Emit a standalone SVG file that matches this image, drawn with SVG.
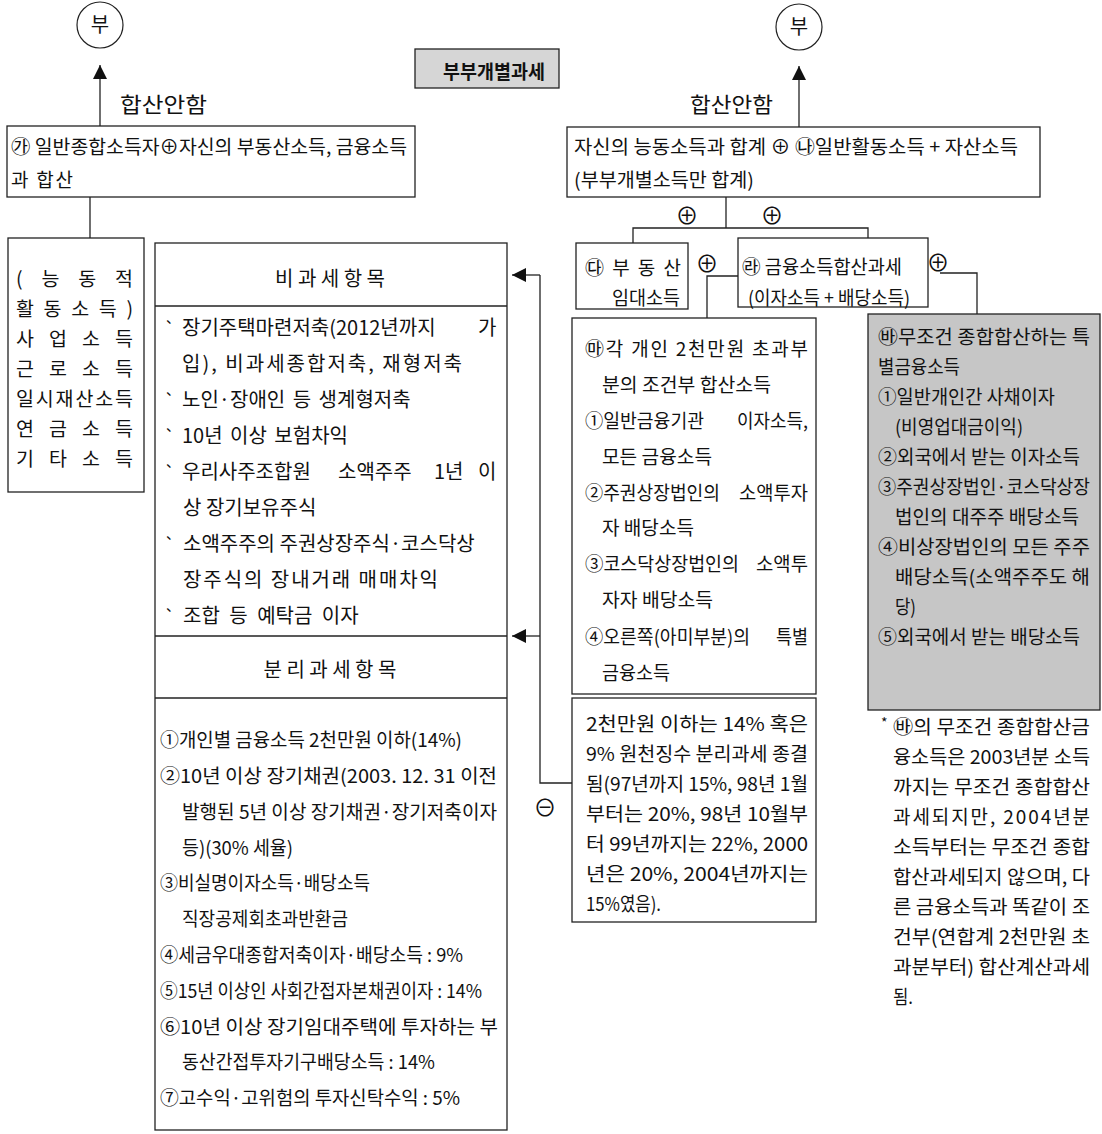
<svg xmlns="http://www.w3.org/2000/svg" width="1102" height="1134" viewBox="0 0 1102 1134">
<style>
text { font-family: "Noto Sans CJK KR", "Noto Sans", sans-serif; font-size: 19px; fill: #111; }
.box { fill: #fff; stroke: #222; stroke-width: 1.3; }
.gray { fill: #c6c6c6; stroke: #222; stroke-width: 1.3; }
.ln { fill: none; stroke: #222; stroke-width: 1.3; }
.big { font-size: 20px; }
.lbl { font-size: 21px; }
.sym { font-size: 23px; }
.c { text-anchor: middle; }
.bul { font-size: 14px; }
</style>
<defs>
<marker id="ah" viewBox="0 0 10 10" refX="10" refY="5" markerWidth="15" markerHeight="14" markerUnits="userSpaceOnUse" orient="auto">
<path d="M0,0 L10,5 L0,10 z" fill="#111"/>
</marker>
</defs>
<rect width="1102" height="1134" fill="#fff"/>

<g id="connectors">
<line class="ln" x1="100" y1="126" x2="100" y2="65" marker-end="url(#ah)"/>
<line class="ln" x1="799" y1="127" x2="799" y2="66" marker-end="url(#ah)"/>
<line class="ln" x1="90" y1="197" x2="90" y2="238"/>
<polyline class="ln" points="726,197 726,228"/>
<polyline class="ln" points="633,243 633,228 868,228 868,238"/>
<polyline class="ln" points="738,276 707,276 707,318"/>
<polyline class="ln" points="940,273 977,273 977,314"/>
<polyline class="ln" points="572,783 540,783 540,275"/>
<line class="ln" x1="540" y1="275" x2="512" y2="275" marker-end="url(#ah)"/>
<line class="ln" x1="540" y1="636" x2="512" y2="636" marker-end="url(#ah)"/>
<text class="lbl" x="120" y="112" textLength="87" lengthAdjust="spacingAndGlyphs">합산안함</text>
<text class="lbl" x="690" y="112" textLength="83" lengthAdjust="spacingAndGlyphs">합산안함</text>
<text class="sym c" x="687" y="224">⊕</text>
<text class="sym c" x="772" y="224">⊕</text>
<text class="sym c" x="707" y="272">⊕</text>
<text class="sym c" x="938" y="271">⊕</text>
<text class="sym c" x="545" y="816">⊖</text>
</g>

<g id="n-bu-left">
<circle cx="100" cy="25" r="23" fill="#fff" stroke="#222" stroke-width="1.2"/>
<text class="big c" x="100" y="32">부</text>
</g>

<g id="n-bu-right">
<circle cx="799" cy="27" r="23" fill="#fff" stroke="#222" stroke-width="1.2"/>
<text class="big c" x="799" y="34">부</text>
</g>

<g id="n-title">
<rect class="gray" x="415" y="49" width="144" height="39" style="fill:#d6d6d6"/>
<text x="443" y="79" font-weight="bold" textLength="102" lengthAdjust="spacingAndGlyphs">부부개별과세</text>
</g>

<g id="n-ga">
<rect class="box" x="7" y="126" width="408" height="71"/>
<text x="11" y="154" textLength="396" lengthAdjust="spacingAndGlyphs">㉮ 일반종합소득자⊕자신의 부동산소득, 금융소득</text>
<text x="11" y="187" textLength="62" lengthAdjust="spacing">과 합산</text>
</g>

<g id="n-na">
<rect class="box" x="567" y="127" width="473" height="70"/>
<text x="574" y="154" textLength="444" lengthAdjust="spacingAndGlyphs">자신의 능동소득과 합계 ⊕ ㉯일반활동소득 + 자산소득</text>
<text x="574" y="187" textLength="180" lengthAdjust="spacingAndGlyphs">(부부개별소득만 합계)</text>
</g>

<g id="n-active">
<rect class="box" x="8" y="238" width="136" height="254"/>
<text x="16" y="286" textLength="117" lengthAdjust="spacing" style="font-size:19.5px">(능동적</text>
<text x="16" y="316" textLength="117" lengthAdjust="spacing" style="font-size:19.5px">활동소득)</text>
<text x="16" y="346" textLength="117" lengthAdjust="spacing" style="font-size:19.5px">사업소득</text>
<text x="16" y="376" textLength="117" lengthAdjust="spacing" style="font-size:19.5px">근로소득</text>
<text x="16" y="406" textLength="117" lengthAdjust="spacing" style="font-size:19.5px">일시재산소득</text>
<text x="16" y="436" textLength="117" lengthAdjust="spacing" style="font-size:19.5px">연금소득</text>
<text x="16" y="466" textLength="117" lengthAdjust="spacing" style="font-size:19.5px">기타소득</text>
</g>

<g id="n-nontax">
<rect class="box" x="155" y="243" width="352" height="887"/>
<line class="ln" x1="155" y1="306" x2="507" y2="306"/>
<line class="ln" x1="155" y1="636" x2="507" y2="636"/>
<line class="ln" x1="155" y1="698" x2="507" y2="698"/>
<text class="big c" x="330" y="286">비 과 세 항 목</text>
<text class="big" y="335"><tspan class="bul" x="166" dy="-12">、</tspan><tspan x="182" dy="12">장기주택마련저축(2012년까지</tspan><tspan x="478">가</tspan></text>
<text class="big" x="182" y="371" textLength="280" lengthAdjust="spacing">입), 비과세종합저축, 재형저축</text>
<text class="big" y="407"><tspan class="bul" x="166" dy="-12">、</tspan><tspan x="182" dy="12" word-spacing="3">노인·장애인 등 생계형저축</tspan></text>
<text class="big" y="443"><tspan class="bul" x="166" dy="-12">、</tspan><tspan x="182" dy="12" word-spacing="3">10년 이상 보험차익</tspan></text>
<text class="big" y="479"><tspan class="bul" x="166" dy="-12">、</tspan><tspan x="182" dy="12">우리사주조합원</tspan><tspan x="338">소액주주</tspan><tspan x="434">1년</tspan><tspan x="478">이</tspan></text>
<text class="big" x="183" y="515">상 장기보유주식</text>
<text class="big" y="551"><tspan class="bul" x="166" dy="-12">、</tspan><tspan x="183" dy="12">소액주주의 주권상장주식·코스닥상</tspan></text>
<text class="big" x="183" y="587" textLength="255" lengthAdjust="spacing">장주식의 장내거래 매매차익</text>
<text class="big" y="623"><tspan class="bul" x="166" dy="-12">、</tspan><tspan x="183" dy="12" word-spacing="5">조합 등 예탁금 이자</tspan></text>
<text class="big c" x="330" y="677">분 리 과 세 항 목</text>
<text x="160" y="747" textLength="302" lengthAdjust="spacingAndGlyphs">①개인별 금융소득 2천만원 이하(14%)</text>
<text x="160" y="783" textLength="337" lengthAdjust="spacingAndGlyphs">②10년 이상 장기채권(2003. 12. 31 이전</text>
<text x="182" y="819" textLength="315" lengthAdjust="spacingAndGlyphs">발행된 5년 이상 장기채권·장기저축이자</text>
<text x="182" y="855" textLength="111" lengthAdjust="spacingAndGlyphs">등)(30% 세율)</text>
<text x="160" y="890" textLength="210" lengthAdjust="spacingAndGlyphs">③비실명이자소득·배당소득</text>
<text x="182" y="926" textLength="166" lengthAdjust="spacingAndGlyphs">직장공제회초과반환금</text>
<text x="160" y="962" textLength="303" lengthAdjust="spacingAndGlyphs">④세금우대종합저축이자·배당소득 : 9%</text>
<text x="160" y="998" textLength="322" lengthAdjust="spacingAndGlyphs">⑤15년 이상인 사회간접자본채권이자 : 14%</text>
<text x="160" y="1034" textLength="338" lengthAdjust="spacingAndGlyphs">⑥10년 이상 장기임대주택에 투자하는 부</text>
<text x="182" y="1069" textLength="253" lengthAdjust="spacingAndGlyphs">동산간접투자기구배당소득 : 14%</text>
<text x="160" y="1105" textLength="300" lengthAdjust="spacingAndGlyphs">⑦고수익·고위험의 투자신탁수익 : 5%</text>
</g>

<g id="n-da">
<rect class="box" x="576" y="243" width="112" height="66"/>
<text x="585" y="275" textLength="96" lengthAdjust="spacing">㉰ 부 동 산</text>
<text x="612" y="305" textLength="68" lengthAdjust="spacingAndGlyphs">임대소득</text>
</g>

<g id="n-ra">
<rect class="box" x="738" y="238" width="190" height="69"/>
<text x="742" y="274" textLength="160" lengthAdjust="spacingAndGlyphs">㉱ 금융소득합산과세</text>
<text x="748" y="305" textLength="162" lengthAdjust="spacingAndGlyphs">(이자소득 + 배당소득)</text>
</g>

<g id="n-ma">
<rect class="box" x="572" y="318" width="244" height="376"/>
<text x="585" y="356" textLength="223" lengthAdjust="spacing">㉲각 개인 2천만원 초과부</text>
<text x="602" y="392" textLength="169" lengthAdjust="spacingAndGlyphs">분의 조건부 합산소득</text>
<text x="585" y="428" textLength="119" lengthAdjust="spacingAndGlyphs">①일반금융기관</text>
<text x="737" y="428" textLength="71" lengthAdjust="spacingAndGlyphs">이자소득,</text>
<text x="602" y="464" textLength="110" lengthAdjust="spacingAndGlyphs">모든 금융소득</text>
<text x="585" y="500" textLength="135" lengthAdjust="spacingAndGlyphs">②주권상장법인의</text>
<text x="739" y="500" textLength="69" lengthAdjust="spacingAndGlyphs">소액투자</text>
<text x="602" y="535" textLength="92" lengthAdjust="spacingAndGlyphs">자 배당소득</text>
<text x="585" y="571" textLength="154" lengthAdjust="spacingAndGlyphs">③코스닥상장법인의</text>
<text x="756" y="571" textLength="52" lengthAdjust="spacingAndGlyphs">소액투</text>
<text x="602" y="607" textLength="111" lengthAdjust="spacingAndGlyphs">자자 배당소득</text>
<text x="585" y="644" textLength="165" lengthAdjust="spacingAndGlyphs">④오른쪽(아미부분)의</text>
<text x="776" y="644" textLength="32" lengthAdjust="spacingAndGlyphs">특별</text>
<text x="602" y="680" textLength="68" lengthAdjust="spacingAndGlyphs">금융소득</text>
</g>

<g id="n-withhold">
<rect class="box" x="572" y="698" width="244" height="224"/>
<text x="586" y="731" textLength="222" lengthAdjust="spacingAndGlyphs">2천만원 이하는 14% 혹은</text>
<text x="586" y="761" textLength="222" lengthAdjust="spacingAndGlyphs">9% 원천징수 분리과세 종결</text>
<text x="586" y="791" textLength="222" lengthAdjust="spacingAndGlyphs">됨(97년까지 15%, 98년 1월</text>
<text x="586" y="821" textLength="222" lengthAdjust="spacingAndGlyphs">부터는 20%, 98년 10월부</text>
<text x="586" y="851" textLength="222" lengthAdjust="spacingAndGlyphs">터 99년까지는 22%, 2000</text>
<text x="586" y="881" textLength="222" lengthAdjust="spacingAndGlyphs">년은 20%, 2004년까지는</text>
<text x="586" y="911" textLength="75" lengthAdjust="spacingAndGlyphs">15%였음).</text>
</g>

<g id="n-ba">
<rect class="gray" x="868" y="314" width="232" height="396"/>
<text x="878" y="344" textLength="212" lengthAdjust="spacingAndGlyphs">㉳무조건 종합합산하는 특</text>
<text x="878" y="374" textLength="82" lengthAdjust="spacingAndGlyphs">별금융소득</text>
<text x="878" y="404" textLength="177" lengthAdjust="spacingAndGlyphs">①일반개인간 사채이자</text>
<text x="895" y="434" textLength="128" lengthAdjust="spacingAndGlyphs">(비영업대금이익)</text>
<text x="878" y="464" textLength="202" lengthAdjust="spacingAndGlyphs">②외국에서 받는 이자소득</text>
<text x="878" y="494" textLength="212" lengthAdjust="spacingAndGlyphs">③주권상장법인·코스닥상장</text>
<text x="895" y="524" textLength="184" lengthAdjust="spacingAndGlyphs">법인의 대주주 배당소득</text>
<text x="878" y="554" textLength="212" lengthAdjust="spacingAndGlyphs">④비상장법인의 모든 주주</text>
<text x="895" y="584" textLength="195" lengthAdjust="spacingAndGlyphs">배당소득(소액주주도 해</text>
<text x="895" y="614" textLength="21" lengthAdjust="spacingAndGlyphs">당)</text>
<text x="878" y="644" textLength="202" lengthAdjust="spacingAndGlyphs">⑤외국에서 받는 배당소득</text>
</g>

<g id="n-note">
<text x="881" y="728" style="font-size:14px">*</text>
<text x="893" y="734" textLength="197" lengthAdjust="spacingAndGlyphs">㉳의 무조건 종합합산금</text>
<text x="893" y="764" textLength="197" lengthAdjust="spacingAndGlyphs">융소득은 2003년분 소득</text>
<text x="893" y="794" textLength="197" lengthAdjust="spacingAndGlyphs">까지는 무조건 종합합산</text>
<text x="893" y="824" textLength="197" lengthAdjust="spacing">과세되지만, 2004년분</text>
<text x="893" y="854" textLength="197" lengthAdjust="spacingAndGlyphs">소득부터는 무조건 종합</text>
<text x="893" y="884" textLength="197" lengthAdjust="spacingAndGlyphs">합산과세되지 않으며, 다</text>
<text x="893" y="914" textLength="197" lengthAdjust="spacingAndGlyphs">른 금융소득과 똑같이 조</text>
<text x="893" y="944" textLength="197" lengthAdjust="spacingAndGlyphs">건부(연합계 2천만원 초</text>
<text x="893" y="974" textLength="197" lengthAdjust="spacingAndGlyphs">과분부터) 합산계산과세</text>
<text x="893" y="1004" textLength="20" lengthAdjust="spacingAndGlyphs">됨.</text>
</g>
</svg>
